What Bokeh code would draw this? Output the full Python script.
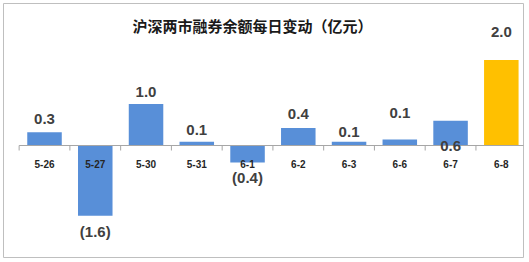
import math
from bokeh.plotting import figure
from bokeh.models import Range1d, ColumnDataSource, Label
from bokeh.core.properties import value
from bokeh.embed import file_html
from bokeh.resources import INLINE

# ---- data ----
categories = ["5-26", "5-27", "5-30", "5-31", "6-1", "6-2", "6-3", "6-6", "6-7", "6-8"]
values = [0.31, -1.64, 0.97, 0.09, -0.40, 0.41, 0.09, 0.14, 0.58, 2.00]
title_text = "沪深两市融券余额每日变动（亿元）"

# ---- styles ----
BLUE = "#588fd8"
GOLD = "#ffc000"
colors = [BLUE] * (len(categories) - 1) + [GOLD]
# label offsets in screen px from bar end (positive = down)
label_offsets = [-13.4, 15.8, -11.8, -11.8, 15.2, -14.2, -10.0, -26.3, 25.8, -28.4]


def fmt(v):
    r = round(abs(v), 1)
    return f"({r:.1f})" if v < 0 else f"{r:.1f}"


xs = list(range(len(categories)))
src = ColumnDataSource(dict(
    x=xs, v=values, color=colors,
    lab=[fmt(v) for v in values], off=label_offsets,
))

p = figure(width=529, height=262,
           x_range=Range1d(-0.808, 9.437), y_range=Range1d(-2.617, 3.318),
           x_axis_type=None, y_axis_type=None,
           output_backend="svg", toolbar_location=None,
           min_border_left=3, min_border_right=6, min_border_top=3, min_border_bottom=5)
p.outline_line_color = "#bfbfbf"
p.outline_line_width = 1
p.background_fill_color = "white"
p.border_fill_color = "white"

p.vbar(x="x", top="v", bottom=0, width=0.68, fill_color="color", line_color=None, source=src)

# axis line at zero with boundary ticks
n = len(categories)
p.segment(x0=[-0.5], y0=[0], x1=[n - 0.5], y1=[0], line_color="#a6a6a6", line_width=1)
p.ray(x=[i - 0.5 for i in range(n + 1)], y=[0] * (n + 1), length=5, length_units="screen",
      angle=-math.pi / 2, line_color="#a6a6a6", line_width=1)

# category labels
p.text(x=xs, y=[0] * n, text=categories, y_offset=18,
       text_align="center", text_baseline="middle",
       text_font=value("Liberation Sans"), text_font_style="bold",
       text_font_size="10px", text_color="#262626")

# value labels
p.text(x="x", y="v", text="lab", y_offset="off", source=src,
       text_align="center", text_baseline="middle",
       text_font=value("Liberation Sans"), text_font_style="bold",
       text_font_size="15px", text_color="#404040")

p.add_layout(Label(x=4.1, y=2.80, text=title_text, text_align="center", text_baseline="middle",
                   text_font="Noto Sans CJK SC", text_font_style="bold",
                   text_font_size="15px", text_color="#1a1a1a"))

open("out.html", "w").write(file_html(p, INLINE))
